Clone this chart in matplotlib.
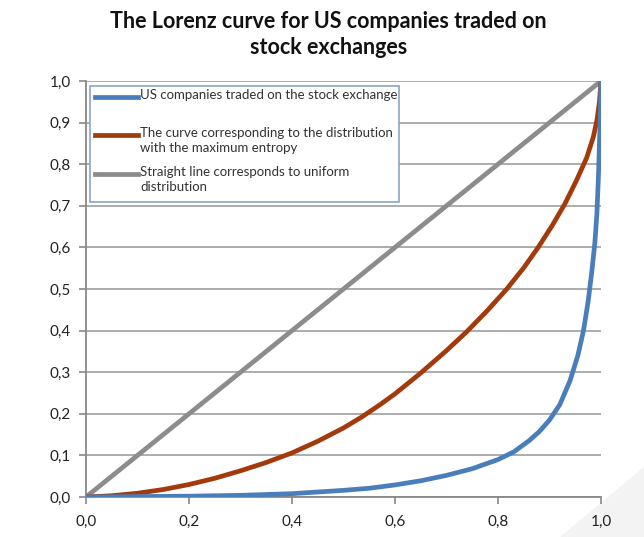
import matplotlib
matplotlib.use("Agg")
import matplotlib.pyplot as plt
from matplotlib.patches import Rectangle, Polygon
from matplotlib.lines import Line2D
from matplotlib.ticker import FuncFormatter

# share of companies (x) vs cumulative share of capitalisation (y)
us_x = [0.0, 0.1, 0.2, 0.3, 0.4, 0.5, 0.55, 0.6, 0.65, 0.7, 0.75, 0.8,
        0.83, 0.86, 0.88, 0.9, 0.92, 0.94, 0.955, 0.966, 0.975, 0.982,
        0.988, 0.992, 0.995, 0.997, 0.999, 1.0]
us_y = [0.0, 0.001, 0.002, 0.004, 0.008, 0.016, 0.021, 0.029, 0.039, 0.052,
        0.068, 0.09, 0.108, 0.135, 0.157, 0.185, 0.222, 0.28, 0.34, 0.4,
        0.47, 0.54, 0.61, 0.68, 0.77, 0.85, 0.93, 1.0]

entropy_x = [0.0, 0.05, 0.1, 0.15, 0.2, 0.25, 0.3, 0.35, 0.4, 0.45, 0.5,
             0.535, 0.571, 0.6, 0.649, 0.7, 0.739, 0.78, 0.817, 0.85, 0.878,
             0.905, 0.93, 0.952, 0.972, 0.985, 0.992, 0.997, 1.0]
entropy_y = [0.0, 0.003, 0.009, 0.018, 0.03, 0.045, 0.063, 0.083, 0.106,
             0.134, 0.166, 0.192, 0.222, 0.248, 0.297, 0.352, 0.397, 0.449,
             0.5, 0.551, 0.6, 0.652, 0.705, 0.76, 0.815, 0.865, 0.905, 0.95, 1.0]

uniform_x = [0.0, 1.0]
uniform_y = [0.0, 1.0]

labels = ["US companies traded on the stock exchange",
          "The curve corresponding to the distribution\nwith the maximum entropy",
          "Straight line corresponds to uniform\ndistribution"]
colors = ["#4a7ebb", "#a33a0c", "#8c8c8c"]

plt.rcParams["font.family"] = ["Lato", "DejaVu Sans"]

fig = plt.figure(figsize=(6.44, 5.37), dpi=100)
ax = fig.add_axes([86 / 644, 1 - 497 / 537, 515 / 644, 416 / 537])

# faint slide shading in the lower right corner
fig.patches.append(Polygon([[0.87, 0.0], [1.0, 0.0], [1.0, 0.13]],
                           closed=True, transform=fig.transFigure,
                           facecolor="#f3f3f3", edgecolor="none", zorder=-5))

ax.plot(uniform_x, uniform_y, color=colors[2], lw=3.4, solid_capstyle="round", zorder=3)
ax.plot(entropy_x, entropy_y, color=colors[1], lw=3.4, solid_capstyle="round", zorder=4)
ax.plot(us_x, us_y, color=colors[0], lw=3.4, solid_capstyle="round", zorder=5)

ax.set_xlim(0, 1)
ax.set_ylim(0, 1)
ax.set_xticks([0, 0.2, 0.4, 0.6, 0.8, 1.0])
ax.set_yticks([i / 10 for i in range(11)])
comma = FuncFormatter(lambda v, p: f"{v:.1f}".replace(".", ","))
ax.xaxis.set_major_formatter(comma)
ax.yaxis.set_major_formatter(comma)
ax.tick_params(axis="both", labelsize=11, colors="#888888", labelcolor="#222222",
               length=5, width=1.2, direction="out")
ax.tick_params(axis="x", pad=8)
ax.tick_params(axis="y", pad=6)
ax.yaxis.grid(True, color="#a6a6a6", lw=1.3)
ax.set_axisbelow(True)
ax.patch.set_alpha(0)
for s in ["top", "right"]:
    ax.spines[s].set_visible(False)
for s in ["left", "bottom"]:
    ax.spines[s].set_color("#888888")
    ax.spines[s].set_linewidth(1.3)

# legend box, handles sitting next to the first line of each label
box = Rectangle((0.008, 0.709), 0.600, 0.279, transform=ax.transAxes,
                facecolor="white", edgecolor="#8aa5c6", lw=1.2, zorder=6)
ax.add_patch(box)
entry_y = [0.9615, 0.870, 0.776]
for lab, col, yy in zip(labels, colors, entry_y):
    ax.add_line(Line2D([0.0175, 0.101], [yy, yy], transform=ax.transAxes,
                       color=col, lw=3.4, zorder=7))
    ax.text(0.105, yy + 0.02, lab, transform=ax.transAxes, fontsize=9.5,
            color="#333333", va="top", ha="left", linespacing=1.3, zorder=7)

fig.text(0.51, 0.935,
         "The Lorenz curve for US companies traded on\nstock exchanges",
         ha="center", va="center", fontsize=15.5, fontweight="bold",
         color="#111111", linespacing=1.3)

fig.savefig("out.png", dpi=100, facecolor="white")
